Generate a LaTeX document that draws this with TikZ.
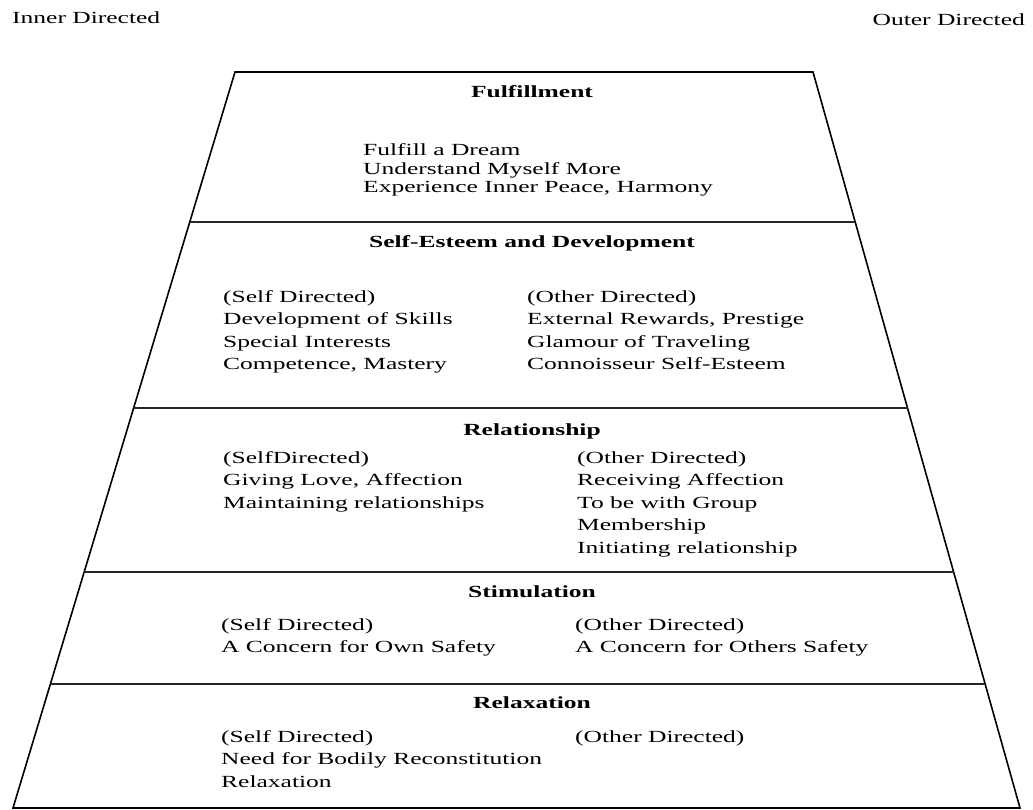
\documentclass[tikz,border=0pt]{standalone}
\usepackage{fontspec}
\setmainfont[FakeStretch=1.5]{Liberation Serif}
\usetikzlibrary{calc}

\begin{document}
\begin{tikzpicture}[x=1pt, y=-1pt,
    every node/.style={inner sep=0pt, font=\fontsize{17}{22.5}\selectfont},
    level/.style={anchor=base, font=\fontsize{17}{22.5}\selectfont\bfseries},
    items/.style={align=left, anchor=base west},
    divider/.style={line width=1.4pt, draw=black!85}]
   \useasboundingbox (0,0) rectangle (1033,810);

   % corners of the pyramid
   \coordinate (tl) at (235,72);
   \coordinate (tr) at (813,72);
   \coordinate (bl) at (13,808);
   \coordinate (br) at (1020,808);
   \draw[line width=1.6pt] (tl) -- (tr) -- (br) -- (bl) -- cycle;

   % level borders
   \foreach \f in {0.2038, 0.4565, 0.6793, 0.8315}
      \draw[divider] ($(tl)!\f!(bl)$) -- ($(tr)!\f!(br)$);

   % directions
   \node[items] (inner) at (12,24) {Inner Directed};
   \node[items, anchor=base east] (outer) at (1025,26) {Outer Directed};

   % Fulfillment (lists sit on their last baseline)
   \node[level] (fulfil) at (532,98) {Fulfillment};
   \node[items, font=\fontsize{17}{18.5}\selectfont] (fulfil_list) at (363,193)
      {Fulfill a Dream\\Understand Myself More\\Experience Inner Peace, Harmony};

   % Self-Esteem and Development
   \node[level] (esteem) at (532,248) {Self-Esteem and Development};
   \node[items] (esteem_self) at (223,369.5)
      {(Self Directed)\\Development of Skills\\Special Interests\\Competence, Mastery};
   \node[items] (esteem_other) at (527,369.5)
      {(Other Directed)\\External Rewards, Prestige\\Glamour of Traveling\\Connoisseur Self-Esteem};

   % Relationship
   \node[level] (relation) at (532,435) {Relationship};
   \node[items] (relation_self) at (223,508)
      {(SelfDirected)\\Giving Love, Affection\\Maintaining relationships};
   \node[items] (relation_other) at (577,553)
      {(Other Directed)\\Receiving Affection\\To be with Group\\Membership\\Initiating relationship};

   % Stimulation
   \node[level] (stimul) at (532,597) {Stimulation};
   \node[items] (stimul_self) at (221,652.5)
      {(Self Directed)\\A Concern for Own Safety};
   \node[items] (stimul_other) at (575,652.5)
      {(Other Directed)\\A Concern for Others Safety};

   % Relaxation
   \node[level] (relax) at (532,708) {Relaxation};
   \node[items] (relax_self) at (221,787)
      {(Self Directed)\\Need for Bodily Reconstitution\\Relaxation};
   \node[items] (relax_other) at (575,742) {(Other Directed)};
\end{tikzpicture}
\end{document}
